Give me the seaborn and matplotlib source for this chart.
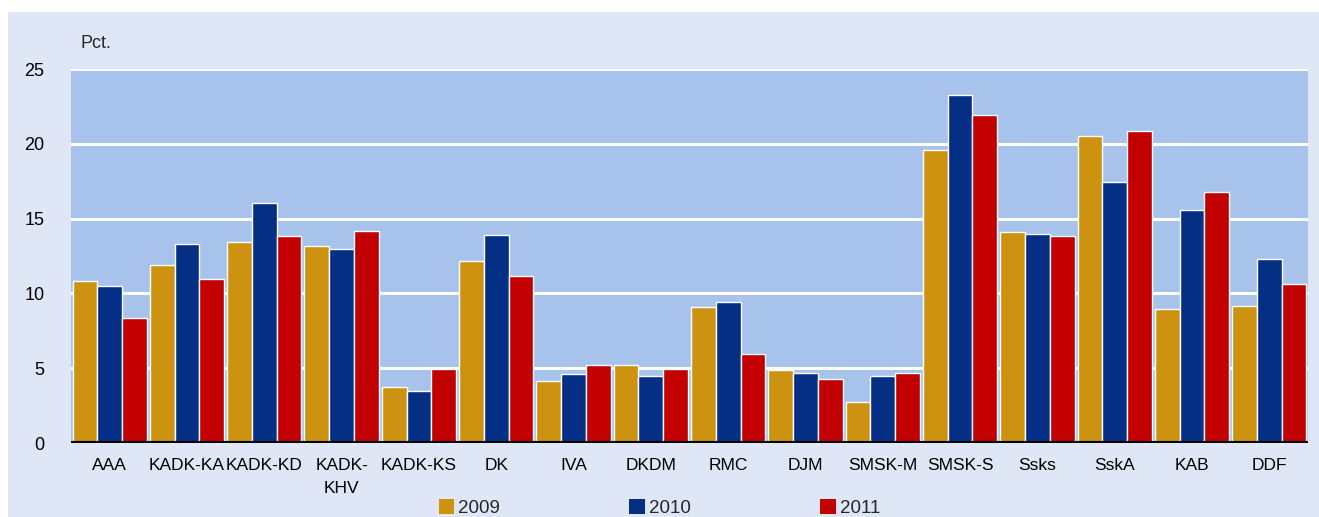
import pandas as pd
import numpy as np
import matplotlib
matplotlib.use("Agg")
import matplotlib.pyplot as plt
from matplotlib.patches import Rectangle, Patch
import seaborn as sns

# Data (Pct.)
kategorier = ["AAA", "KADK-KA", "KADK-KD", "KADK-\nKHV", "KADK-KS", "DK", "IVA", "DKDM",
              "RMC", "DJM", "SMSK-M", "SMSK-S", "Ssks", "SskA", "KAB", "DDF"]
aar = ["2009", "2010", "2011"]
v2009 = [10.8, 11.9, 13.45, 13.2, 3.75, 12.15, 4.15, 5.2, 9.1, 4.9, 2.75, 19.6, 14.1, 20.55, 8.95, 9.15]
v2010 = [10.5, 13.3, 16.05, 13.0, 3.5, 13.9, 4.6, 4.5, 9.45, 4.7, 4.5, 23.25, 14.0, 17.45, 15.6, 12.3]
v2011 = [8.35, 10.95, 13.85, 14.15, 4.95, 11.15, 5.2, 4.95, 5.95, 4.25, 4.65, 21.9, 13.85, 20.85, 16.8, 10.65]
farver = ["#CD9210", "#052F84", "#C20000"]

df = pd.DataFrame({
    "Kategori": kategorier * 3,
    "Aar": [aar[0]] * 16 + [aar[1]] * 16 + [aar[2]] * 16,
    "Pct": v2009 + v2010 + v2011,
})

sns.set_theme(style="white")
plt.rcParams["font.family"] = ["Liberation Sans Narrow", "Liberation Sans", "DejaVu Sans"]

fig = plt.figure(figsize=(13.19, 5.17), dpi=100)
fig.patch.set_facecolor("white")
# lys blaa ramme bag grafen
fig.patches.append(Rectangle((8 / 1319, 0), 1, 1 - 12 / 517, transform=fig.transFigure,
                             facecolor="#DFE7F7", edgecolor="none", zorder=-5))

ax = fig.add_axes([71 / 1319, 74 / 517, (1308 - 71) / 1319, (443 - 69) / 517])
ax.set_facecolor("#A7C3EC")

sns.barplot(data=df, x="Kategori", y="Pct", hue="Aar", palette=farver, width=0.96,
            saturation=1, ax=ax, legend=False, zorder=3)

ax.set_ylim(0, 25)
ax.set_xlim(-0.5, 15.5)
ax.set_yticks(range(0, 26, 5))
ax.yaxis.grid(True, color="white", linewidth=2.2, zorder=1)
ax.set_axisbelow(True)
ax.axhline(0, color="black", linewidth=3, zorder=5)
for s in ax.spines.values():
    s.set_visible(False)
ax.tick_params(axis="y", length=0, labelsize=13, colors="black", pad=19)
ax.tick_params(axis="x", length=0, labelsize=12.5, colors="black", pad=11)
for t in ax.get_xticklabels():
    t.set_linespacing(1.65)
ax.set_xlabel("")
ax.set_ylabel("")

fig.text(81 / 1319, 1 - 44 / 517, "Pct.", fontsize=13, va="center", ha="left")

handles = [Patch(facecolor=c, edgecolor="none") for c in farver]
fig.legend(handles, aar, loc="center", bbox_to_anchor=(0.5, 0.018), ncol=3, frameon=False,
           fontsize=13.5, handlelength=0.85, handleheight=0.9, handletextpad=0.2,
           columnspacing=6.9, borderaxespad=0)

fig.savefig("out.png", dpi=100, facecolor="white")
